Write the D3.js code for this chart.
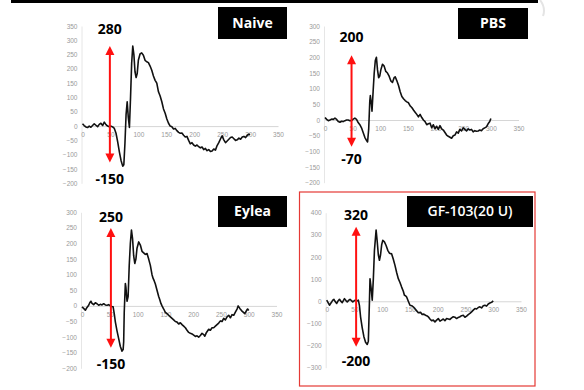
<!DOCTYPE html>
<html>
<head>
<meta charset="utf-8">
<script src="https://cdn.jsdelivr.net/npm/d3@7"></script>
<style>
  html, body { margin: 0; padding: 0; background: #fff; }
</style>
</head>
<body>
<div id="chart"></div>
<script>
// ERG traces: [time, amplitude]
const naive = [[0,8],[3,2],[6,-3],[9,-5],[12,0],[15,-4],[18,2],[21,8],[24,3],[27,-2],[30,6],[33,10],[36,2],[39,14],[42,5],[45,0],[48,-2],[51,0],[54,-3],[57,-8],[60,-25],[63,-55],[66,-90],[69,-120],[72,-140],[74,-135],[76,-60],[78,40],[80,85],[82,30],[84,-5],[86,100],[88,220],[90,280],[92,250],[94,190],[96,170],[98,185],[100,230],[103,252],[106,256],[109,248],[112,230],[115,225],[118,222],[121,210],[124,195],[127,175],[130,160],[133,150],[136,120],[139,105],[142,85],[145,60],[148,45],[151,25],[154,10],[157,0],[160,-2],[163,-10],[166,-8],[169,-16],[172,-22],[175,-25],[178,-24],[181,-32],[184,-38],[187,-36],[190,-50],[193,-62],[196,-58],[199,-66],[202,-70],[205,-66],[208,-72],[211,-76],[214,-73],[217,-82],[220,-78],[223,-86],[226,-82],[229,-89],[232,-87],[235,-80],[238,-84],[241,-68],[244,-58],[247,-45],[250,-34],[253,-48],[256,-58],[259,-52],[262,-46],[265,-40],[268,-38],[271,-44],[274,-50],[277,-48],[280,-42],[283,-46],[286,-38],[289,-36],[292,-40],[295,-32],[298,-28],[300,-30]];
const pbs = [[0,8],[3,2],[6,-2],[9,0],[12,3],[15,2],[18,6],[21,2],[24,-5],[27,-7],[30,-4],[33,-5],[36,-2],[39,0],[42,0],[45,-2],[48,-2],[51,3],[54,6],[57,2],[60,-8],[63,-15],[66,-25],[69,-40],[72,-55],[75,-65],[77,-70],[79,-30],[81,60],[82,78],[84,50],[85,28],[87,90],[89,150],[91,190],[93,200],[95,160],[97,135],[99,140],[101,160],[104,178],[107,172],[110,155],[113,150],[116,140],[119,125],[122,120],[125,135],[127,138],[130,125],[133,110],[136,90],[139,75],[142,68],[145,62],[148,58],[151,55],[154,45],[157,40],[160,32],[163,25],[166,18],[169,10],[172,18],[175,8],[178,0],[181,-5],[184,-15],[187,-12],[190,-10],[193,-25],[196,-15],[199,-28],[202,-20],[205,-30],[208,-18],[211,-28],[214,-32],[217,-40],[220,-48],[223,-52],[226,-55],[229,-58],[232,-50],[235,-48],[238,-38],[241,-42],[244,-30],[247,-35],[250,-25],[253,-30],[256,-35],[259,-28],[262,-32],[265,-30],[268,-38],[271,-34],[274,-36],[277,-35],[280,-32],[283,-34],[286,-28],[289,-25],[292,-22],[295,-12],[298,-5],[300,5]];
const eylea = [[0,-3],[3,-8],[6,-14],[9,-5],[12,2],[14,10],[16,15],[18,8],[21,4],[24,10],[27,7],[30,2],[33,5],[36,3],[39,7],[42,3],[45,2],[48,4],[51,0],[54,-2],[56,-3],[58,-25],[60,-51],[63,-80],[66,-105],[69,-130],[72,-145],[74,-140],[75,-115],[76,-20],[78,72],[79,60],[81,15],[83,30],[85,130],[87,200],[89,243],[91,215],[93,160],[95,136],[97,150],[99,185],[102,205],[105,195],[108,175],[111,170],[114,165],[117,168],[120,150],[123,130],[126,100],[128,88],[130,80],[132,70],[135,50],[138,30],[140,20],[142,8],[144,0],[147,-10],[150,-21],[153,-25],[156,-30],[159,-35],[162,-40],[165,-45],[168,-50],[171,-52],[174,-58],[177,-54],[180,-60],[183,-65],[186,-70],[189,-78],[192,-85],[195,-88],[198,-90],[201,-94],[204,-98],[207,-96],[210,-100],[213,-95],[216,-88],[219,-92],[221,-97],[224,-85],[228,-75],[231,-78],[234,-70],[237,-70],[240,-65],[243,-60],[246,-55],[249,-48],[252,-50],[255,-40],[258,-45],[261,-35],[264,-30],[267,-38],[270,-28],[273,-30],[276,-20],[279,-10],[281,0],[284,-8],[287,-15],[290,-20],[293,-25],[296,-15],[298,-10],[300,-15]];
const gf103 = [[0,5],[3,-8],[5,-18],[7,-10],[9,-3],[11,5],[13,9],[15,0],[18,-10],[20,0],[23,9],[25,2],[28,-6],[30,3],[32,12],[35,2],[37,-3],[40,5],[42,9],[45,2],[47,-3],[50,3],[52,5],[55,2],[57,5],[59,-20],[61,-70],[64,-120],[67,-160],[70,-185],[73,-195],[75,-180],[77,0],[78,102],[80,60],[82,5],[84,100],[86,230],[89,322],[91,270],[93,210],[95,185],[97,210],[99,255],[101,275],[104,268],[107,252],[110,230],[113,217],[117,214],[120,190],[123,162],[126,130],[129,102],[132,85],[135,64],[138,45],[140,27],[142,25],[144,19],[147,0],[150,-18],[153,-20],[157,-28],[161,-40],[165,-52],[169,-50],[172,-60],[175,-58],[178,-63],[181,-66],[183,-70],[186,-80],[189,-88],[192,-85],[195,-93],[198,-85],[201,-78],[204,-90],[207,-85],[210,-80],[213,-88],[216,-78],[219,-80],[222,-82],[225,-75],[228,-70],[231,-72],[234,-78],[237,-73],[240,-70],[243,-65],[246,-63],[249,-72],[252,-67],[255,-60],[258,-55],[261,-48],[264,-40],[267,-33],[270,-35],[273,-28],[276,-25],[279,-30],[282,-20],[285,-18],[288,-22],[291,-12],[294,-8],[297,-5],[300,2]];

const titles = ["Naive", "PBS", "Eylea", "GF-103(20 U)"];
const xTicks = [0, 50, 100, 150, 200, 250, 300, 350];
const yDomains = [[-200, 350], [-200, 300], [-200, 300], [-300, 400]];
const yTickSteps = [50, 50, 50, 100];
// peak-to-trough annotation: [top, bottom] of arrow, and the labels
const arrowSpans = [[280, -127], [207, -85], [250, -134], [337, -205]];
const arrowAt = [49, 48, 52, 53];
const peakLabels = ["280", "200", "250", "320"];
const troughLabels = ["-150", "-70", "-150", "-200"];

// layout of each small plot (pixels)
const panels = [
    {x: [82.5, 278], y: [183.3, 26], box: [218, 7, 69, 32], topLab: 34, botLab: 184},
    {x: [325, 518.5], y: [182.7, 26], box: [458, 8, 70, 31], topLab: 42, botLab: 164},
    {x: [82, 276.5], y: [368.3, 212.3], box: [218, 196, 69, 31], topLab: 222, botLab: 369},
    {x: [326.7, 521], y: [367.7, 212.7], box: [407, 196, 126, 31], topLab: 220, botLab: 366}
];
const traces = [naive, pbs, eylea, gf103];

const width = 584, height = 390;
const svg = d3.select("#chart").append("svg")
    .attr("width", width)
    .attr("height", height)
    .style("font-family", "'Open Sans', sans-serif");

// slide decoration
svg.append("rect").attr("x", 11).attr("y", 0).attr("width", 527).attr("height", 3).attr("fill", "#000");
svg.append("path").attr("d", "M540,0 Q546,8 543,16").attr("fill", "none")
    .attr("stroke", "#e4e4e4").attr("stroke-width", 2);

// highlight box around the treated group
svg.append("rect").attr("x", 299.5).attr("y", 192).attr("width", 235.5).attr("height", 194)
    .attr("fill", "none").attr("stroke", "#e53935").attr("stroke-width", 1.2);

panels.forEach((p, i) => {
    const g = svg.append("g");
    const x = d3.scaleLinear().domain([0, 350]).range(p.x);
    const y = d3.scaleLinear().domain(yDomains[i]).range(p.y);
    const yTicks = d3.range(yDomains[i][0], yDomains[i][1] + 1, yTickSteps[i]);

    // y axis
    g.append("g")
        .attr("transform", `translate(${x(0) - 1},0)`)
        .call(d3.axisLeft(y).tickValues(yTicks).tickSize(0).tickPadding(4))
        .call(a => a.select(".domain").attr("stroke", "#e6e6e6"))
        .call(a => a.selectAll("text").attr("fill", "#9a9a9a")
            .style("font-size", "6.5px").style("font-family", "'Liberation Sans', sans-serif"));

    // x axis through zero
    g.append("g")
        .attr("transform", `translate(0,${y(0)})`)
        .call(d3.axisBottom(x).tickValues(xTicks).tickSize(0).tickPadding(6))
        .call(a => a.select(".domain").attr("stroke", "#d6d6d6"))
        .call(a => a.selectAll("text").attr("fill", "#9a9a9a")
            .style("font-size", "6.5px").style("font-family", "'Liberation Sans', sans-serif"));

    // trace
    const line = d3.line().x(d => x(d[0])).y(d => y(d[1]));
    g.append("path")
        .datum(traces[i])
        .attr("fill", "none")
        .attr("stroke", "#111")
        .attr("stroke-width", 1.6)
        .attr("stroke-linejoin", "round")
        .attr("d", line);

    // red double arrow
    const ax = x(arrowAt[i]);
    const yt = y(arrowSpans[i][0]), yb = y(arrowSpans[i][1]);
    const red = "#ff1010";
    g.append("line").attr("x1", ax).attr("x2", ax).attr("y1", yt + 6).attr("y2", yb - 6)
        .attr("stroke", red).attr("stroke-width", 2);
    g.append("path").attr("d", `M${ax},${yt} L${ax - 4.5},${yt + 9} L${ax + 4.5},${yt + 9} Z`).attr("fill", red);
    g.append("path").attr("d", `M${ax},${yb} L${ax - 4.5},${yb - 9} L${ax + 4.5},${yb - 9} Z`).attr("fill", red);

    g.append("text").attr("x", ax).attr("y", p.topLab)
        .attr("text-anchor", "middle").attr("font-weight", "bold").attr("font-size", 14)
        .text(peakLabels[i]);
    g.append("text").attr("x", ax).attr("y", p.botLab)
        .attr("text-anchor", "middle").attr("font-weight", "bold").attr("font-size", 14)
        .text(troughLabels[i]);

    // title tag
    g.append("rect").attr("x", p.box[0]).attr("y", p.box[1]).attr("width", p.box[2]).attr("height", p.box[3])
        .attr("fill", "#000");
    g.append("text")
        .attr("x", p.box[0] + p.box[2] / 2).attr("y", p.box[1] + p.box[3] / 2)
        .attr("dy", "0.35em")
        .attr("text-anchor", "middle")
        .attr("fill", "#fff")
        .attr("font-weight", i === 3 ? 600 : "bold")
        .attr("font-size", i === 3 ? 14 : 14)
        .text(titles[i]);
});
</script>
</body>
</html>
